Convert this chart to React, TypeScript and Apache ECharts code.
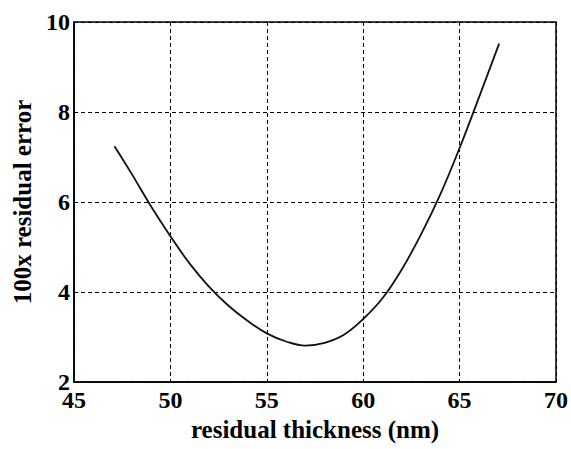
import React, { useEffect, useRef } from "react";
import * as echarts from "echarts";

const thickness = [47.1, 48, 49, 50, 51, 52, 53, 54, 55, 56, 57, 58, 59, 60, 61, 62, 63, 64, 65, 66, 67.05];
const residualError = [7.24, 6.62, 5.9, 5.24, 4.63, 4.12, 3.7, 3.36, 3.08, 2.9, 2.81, 2.87, 3.05, 3.4, 3.86, 4.5, 5.28, 6.17, 7.2, 8.32, 9.52];

const xTicks = { min: 45, max: 70, interval: 5 };
const yTicks = { min: 2, max: 10, interval: 2 };
const xTitle = "residual thickness (nm)";
const yTitle = "100x residual error";

const FONT = "'Liberation Serif', 'Times New Roman', serif";

export default function App() {
  const ref = useRef<HTMLDivElement>(null);
  useEffect(() => {
    if (!ref.current) return;
    const chart = echarts.init(ref.current, null, { renderer: "svg" });
    const data = thickness.map((x, i) => [x, residualError[i]]);
    chart.setOption({
      animation: false,
      backgroundColor: "#ffffff",
      grid: {
        left: 74,
        right: 14,
        top: 22,
        bottom: 67,
        show: true,
        borderColor: "#000",
        borderWidth: 1.5,
        backgroundColor: "transparent",
      },
      xAxis: {
        type: "value",
        min: xTicks.min,
        max: xTicks.max,
        interval: xTicks.interval,
        name: xTitle,
        nameLocation: "middle",
        nameGap: 28,
        nameTextStyle: { fontFamily: FONT, fontWeight: "bold", fontSize: 25, color: "#000" },
        axisLine: { show: true, lineStyle: { color: "#000", width: 1.5 } },
        axisTick: { show: false },
        axisLabel: { fontFamily: FONT, fontWeight: "bold", fontSize: 24, color: "#000", margin: 6 },
        splitLine: { show: true, lineStyle: { color: "#000", type: [4, 3], width: 1 } },
      },
      yAxis: {
        type: "value",
        min: yTicks.min,
        max: yTicks.max,
        interval: yTicks.interval,
        name: yTitle,
        nameLocation: "middle",
        nameGap: 37,
        nameTextStyle: { fontFamily: FONT, fontWeight: "bold", fontSize: 25, color: "#000" },
        axisLine: { show: true, lineStyle: { color: "#000", width: 1.5 } },
        axisTick: { show: false },
        axisLabel: { fontFamily: FONT, fontWeight: "bold", fontSize: 24, color: "#000", margin: 4 },
        splitLine: { show: true, lineStyle: { color: "#000", type: [4, 3], width: 1 } },
      },
      series: [
        {
          type: "line",
          data,
          smooth: 0.4,
          showSymbol: false,
          lineStyle: { color: "#111", width: 1.8 },
        },
      ],
    });
    return () => chart.dispose();
  }, []);
  return (
    <div
      ref={ref}
      style={{ position: "fixed", left: 0, top: 0, width: 571, height: 449, background: "#fff" }}
    />
  );
}
